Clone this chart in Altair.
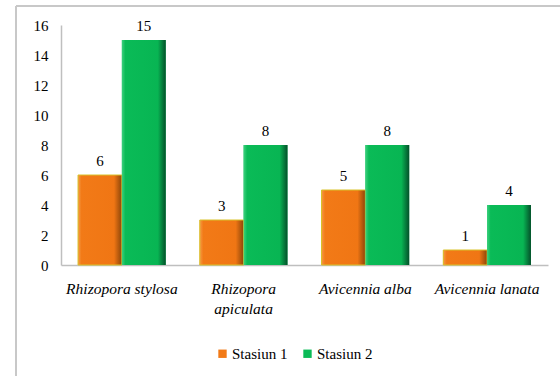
import altair as alt
import pandas as pd

species = ["Rhizopora stylosa", "Rhizopora apiculata", "Avicennia alba", "Avicennia lanata"]
series_names = ["Stasiun 1", "Stasiun 2"]
stasiun1 = [6, 3, 5, 1]
stasiun2 = [15, 8, 8, 4]
colors = ["#F27A17", "#0ABB57"]

rows = []
for sp, a, b in zip(species, stasiun1, stasiun2):
    rows.append({"species": sp, "series": series_names[0], "value": a})
    rows.append({"species": sp, "series": series_names[1], "value": b})
df = pd.DataFrame(rows)

FONT = "Liberation Serif"

base = alt.Chart(df).encode(
    x=alt.X(
        "species:N",
        sort=species,
        scale=alt.Scale(paddingInner=0.28, paddingOuter=0.14),
        axis=alt.Axis(
            title=None,
            labelAngle=0,
            labelFont=FONT,
            labelFontSize=15.5,
            labelFontStyle="italic",
            labelColor="#000000",
            labelPadding=16,
            ticks=False,
            domainColor="#BFBFBF",
            domainWidth=1.5,
            labelExpr="datum.value == 'Rhizopora apiculata' ? ['Rhizopora', 'apiculata'] : datum.value",
            labelLineHeight=20,
        ),
    ),
    xOffset=alt.XOffset("series:N", sort=series_names),
    y=alt.Y(
        "value:Q",
        scale=alt.Scale(domain=[0, 16]),
        axis=alt.Axis(
            title=None,
            values=list(range(0, 17, 2)),
            labelFont=FONT,
            labelFontSize=15,
            labelColor="#000000",
            labelPadding=13,
            ticks=False,
            grid=False,
            domainColor="#BFBFBF",
            domainWidth=1.5,
        ),
    ),
)

bars = base.mark_bar().encode(
    color=alt.Color(
        "series:N",
        sort=series_names,
        scale=alt.Scale(domain=series_names, range=colors),
        legend=alt.Legend(
            title=None,
            orient="none",
            legendX=154,
            legendY=321,
            direction="horizontal",
            labelFont=FONT,
            labelFontSize=15,
            labelColor="#000000",
            symbolType="square",
            symbolSize=70,
            symbolStrokeWidth=0,
            columnPadding=12,
            labelOffset=2,
        ),
    )
)

grad1 = base.mark_bar(
    color=alt.Gradient(
        gradient="linear", x1=0, x2=1, y1=0, y2=0,
        stops=[
            alt.GradientStop(offset=0, color="#F59A45"),
            alt.GradientStop(offset=0.08, color="#F27A17"),
            alt.GradientStop(offset=0.82, color="#F07614"),
            alt.GradientStop(offset=1, color="#8C4509"),
        ],
    ),
    stroke="#D8C22A",
    strokeWidth=1,
).transform_filter(alt.datum.series == "Stasiun 1")

grad2 = base.mark_bar(
    color=alt.Gradient(
        gradient="linear", x1=0, x2=1, y1=0, y2=0,
        stops=[
            alt.GradientStop(offset=0, color="#3CD07E"),
            alt.GradientStop(offset=0.08, color="#0ABB57"),
            alt.GradientStop(offset=0.82, color="#08B553"),
            alt.GradientStop(offset=1, color="#04502A"),
        ],
    ),
).transform_filter(alt.datum.series == "Stasiun 2")

labels = base.mark_text(
    baseline="bottom", dy=-6, font=FONT, fontSize=15, color="#000000"
).encode(text="value:Q")

border_data = alt.Data(values=[{}])
top_line = alt.Chart(border_data).mark_rule(color="#C8C8C8", strokeWidth=2).encode(
    x=alt.value(-45), x2=alt.value(510), y=alt.value(-19)
)
left_line = alt.Chart(border_data).mark_rule(color="#C8C8C8", strokeWidth=2).encode(
    x=alt.value(-45), y=alt.value(-19), y2=alt.value(360)
)

chart = alt.layer(top_line, left_line, bars, grad1, grad2, labels).properties(
    width=487,
    height=240,
    autosize=alt.AutoSizeParams(type="none"),
    padding={"left": 61, "top": 25, "right": 12, "bottom": 111},
    background="#FFFFFF",
).configure(font=FONT).configure_view(stroke=None)

chart.save("out.html", embed_options={"renderer": "svg", "actions": False})
